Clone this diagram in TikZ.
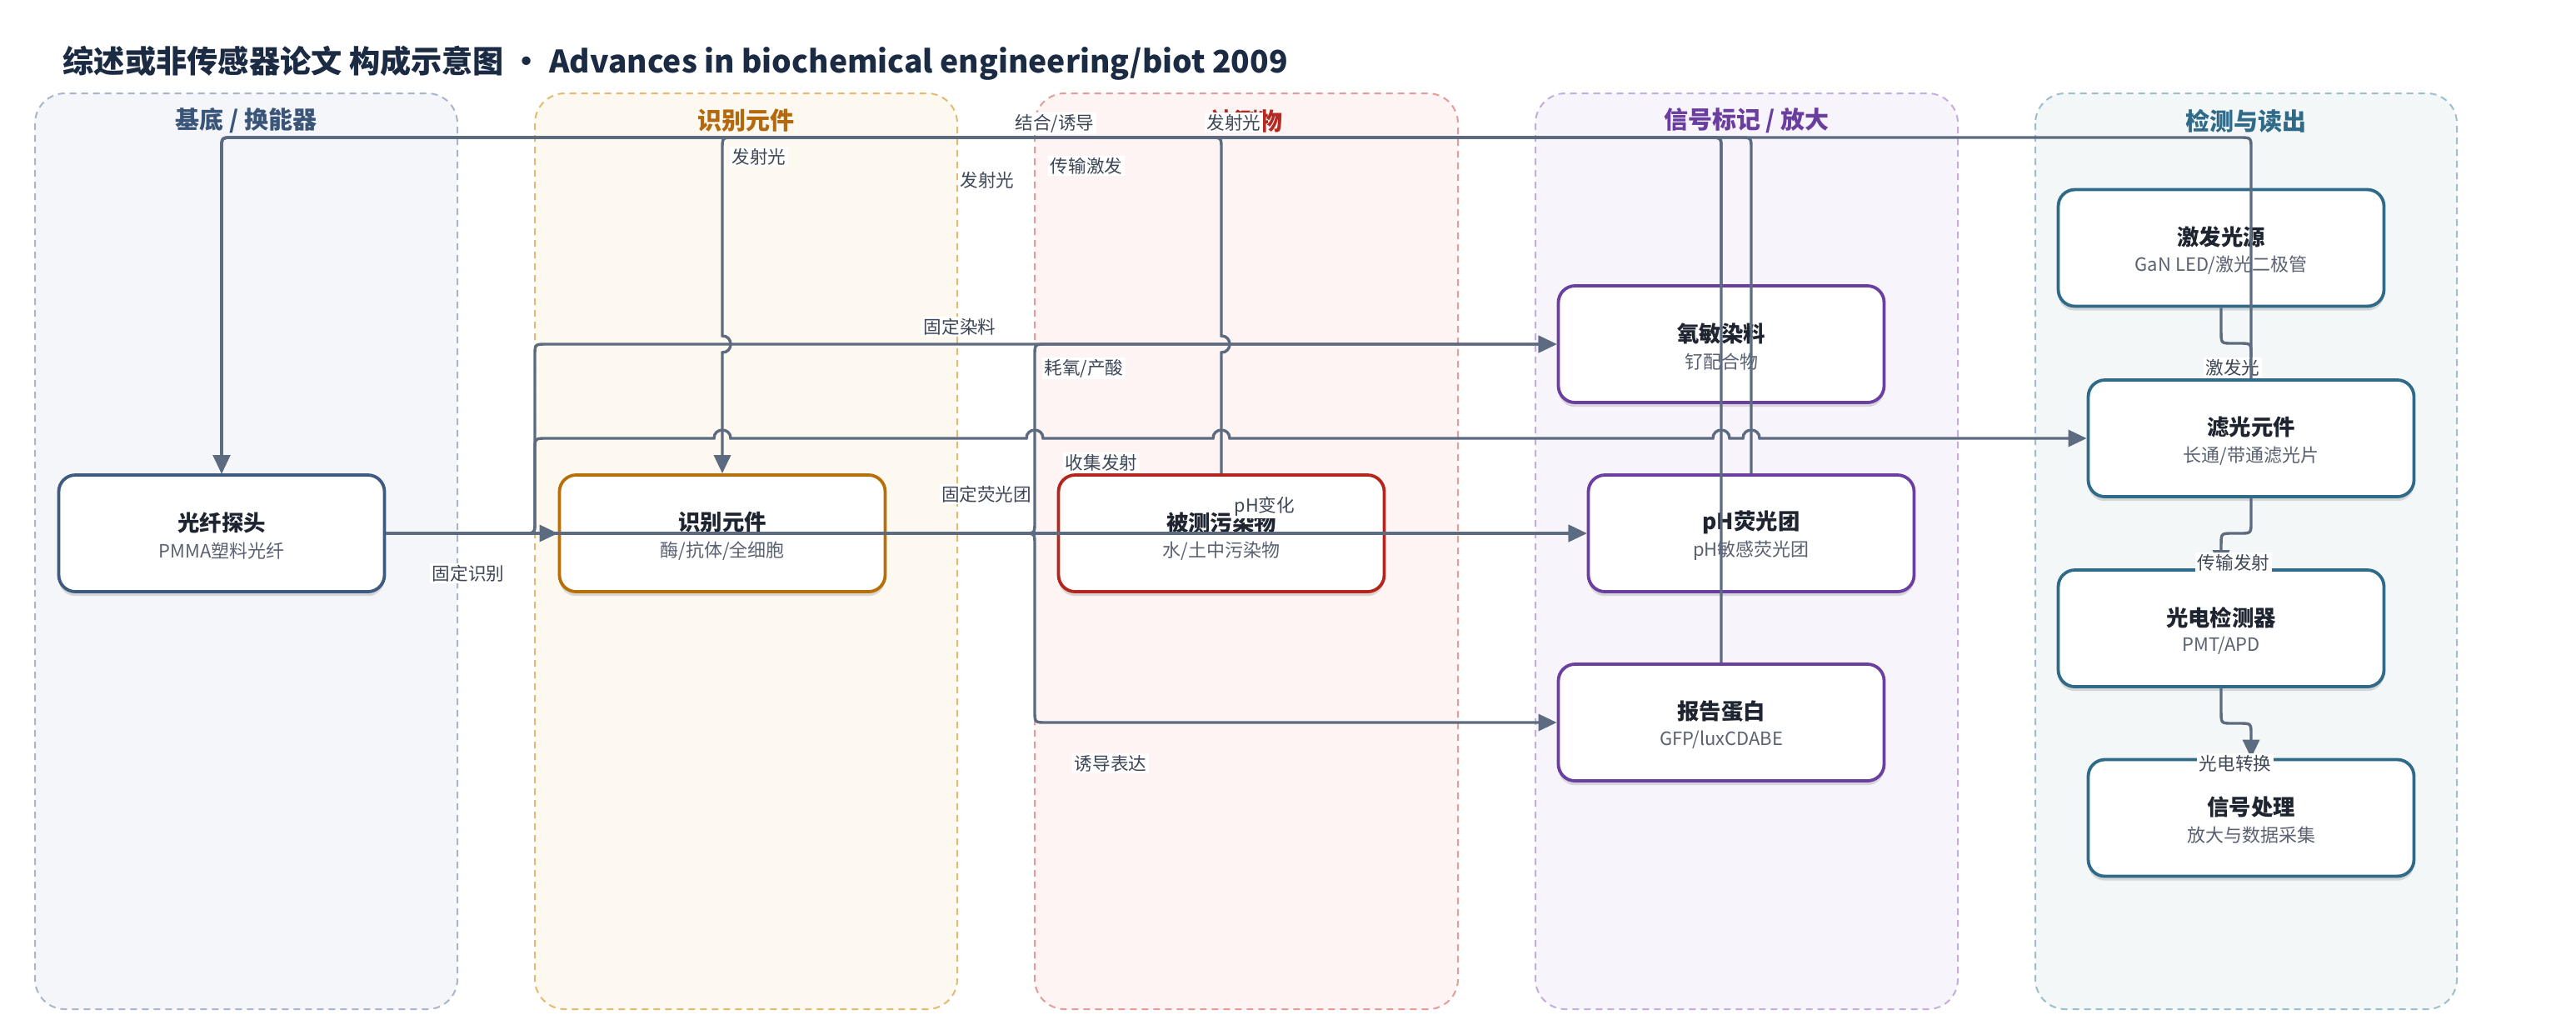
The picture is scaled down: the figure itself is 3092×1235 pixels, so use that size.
\documentclass[tikz,border=0pt]{standalone}
\usepackage{fontspec}
\setmainfont{Noto Sans CJK SC}
\usetikzlibrary{arrows.meta,shadows}
\definecolor{cTitle}{HTML}{1B2B44}
\definecolor{cEdge}{HTML}{5C6B80}
\definecolor{cLbl}{HTML}{3E4756}
\definecolor{cNt}{HTML}{1E2530}
\definecolor{cNs}{HTML}{5A6170}
\definecolor{fA}{HTML}{F4F6FA}\definecolor{dA}{HTML}{A7B6CA}\definecolor{hA}{HTML}{3B5578}
\definecolor{fB}{HTML}{FDF8F0}\definecolor{dB}{HTML}{E4BA72}\definecolor{hB}{HTML}{B4690E}
\definecolor{fC}{HTML}{FDF4F3}\definecolor{dC}{HTML}{E39C99}\definecolor{hC}{HTML}{B22A22}
\definecolor{fD}{HTML}{F7F4FB}\definecolor{dD}{HTML}{C5AEDF}\definecolor{hD}{HTML}{6A3E9E}
\definecolor{fE}{HTML}{F3F7F8}\definecolor{dE}{HTML}{9DBECB}\definecolor{hE}{HTML}{2F6B89}
\definecolor{bA}{HTML}{3E5A80}
\definecolor{bB}{HTML}{B5700A}
\definecolor{bC}{HTML}{B3261E}
\definecolor{bD}{HTML}{6B3FA0}
\definecolor{bE}{HTML}{2F6B89}
\begin{document}
\begin{tikzpicture}[x=0.25pt,y=-0.25pt,
  lane/.style={line width=0.5pt, dash pattern=on 2pt off 1.5pt, rounded corners=9pt},
  hdr/.style={font=\bfseries\fontsize{7.25}{8}\selectfont, inner sep=0pt},
  box/.style={draw, line width=0.95pt, fill=white, rounded corners=5pt,
    minimum width=97.75pt, minimum height=35pt, inner sep=0pt,
    drop shadow={shadow xshift=0pt, shadow yshift=-1.3pt, opacity=0.13, fill=black}},
  ntitle/.style={font=\bfseries\fontsize{6.6}{7}\selectfont, text=cNt, inner sep=0pt},
  nsub/.style={font=\fontsize{5.5}{6}\selectfont, text=cNs, inner sep=0pt},
  edge/.style={draw=cEdge, line width=0.85pt, -{Triangle[length=5.5pt,width=5pt]}},
  lbl/.style={fill=white, inner sep=0.6pt, text=cLbl, font=\fontsize{5.4}{6}\selectfont}]
\useasboundingbox (0,0) rectangle (3092,1235);
\fill[white] (0,0) rectangle (3092,1235);

% title
\node[anchor=west, inner sep=0pt, text=cTitle, font=\bfseries\fontsize{9.3}{11}\selectfont] (title) at (75,76)
  {综述或非传感器论文 构成示意图 · Advances in biochemical engineering/biot 2009};

% lanes
\draw[lane, fill=fA, draw=dA] (42,112) rectangle (549,1211);
\draw[lane, fill=fB, draw=dB] (642,112) rectangle (1149,1211);
\draw[lane, fill=fC, draw=dC] (1242,112) rectangle (1750,1211);
\draw[lane, fill=fD, draw=dD] (1843,112) rectangle (2350,1211);
\draw[lane, fill=fE, draw=dE] (2443,112) rectangle (2949,1211);
\node[hdr, text=hA] (hA) at (295.5,145) {基底 / 换能器};
\node[hdr, text=hB] (hB) at (895.5,145) {识别元件};
\node[hdr, text=hC] (hC) at (1496,145) {被测物};
\node[hdr, text=hD] (hD) at (2096.5,145) {信号标记 / 放大};
\node[hdr, text=hE] (hE) at (2696,145) {检测与读出};

% nodes
\node[box, draw=bA] (fiber) at (266,640) {};
\node[box, draw=bB] (recog) at (867,640) {};
\node[box, draw=bC] (analyte) at (1466,640) {};
\node[box, draw=bD] (oxy) at (2066,413) {};
\node[box, draw=bD] (ph) at (2102,640) {};
\node[box, draw=bD] (reporter) at (2066,867) {};
\node[box, draw=bE] (source) at (2666,297.5) {};
\node[box, draw=bE] (filter) at (2702,526) {};
\node[box, draw=bE] (detector) at (2666,754) {};
\node[box, draw=bE] (processor) at (2702,981.5) {};

\node[ntitle] (fiber-t) at ([yshift=3.25pt]fiber.center) {光纤探头};
\node[nsub] (fiber-s) at ([yshift=-5.25pt]fiber.center) {PMMA塑料光纤};
\node[ntitle] (recog-t) at ([yshift=3.25pt]recog.center) {识别元件};
\node[nsub] (recog-s) at ([yshift=-5.25pt]recog.center) {酶/抗体/全细胞};
\node[ntitle] (analyte-t) at ([yshift=3.25pt]analyte.center) {被测污染物};
\node[nsub] (analyte-s) at ([yshift=-5.25pt]analyte.center) {水/土中污染物};
\node[ntitle] (oxy-t) at ([yshift=3.25pt]oxy.center) {氧敏染料};
\node[nsub] (oxy-s) at ([yshift=-5.25pt]oxy.center) {钌配合物};
\node[ntitle] (ph-t) at ([yshift=3.25pt]ph.center) {pH荧光团};
\node[nsub] (ph-s) at ([yshift=-5.25pt]ph.center) {pH敏感荧光团};
\node[ntitle] (reporter-t) at ([yshift=3.25pt]reporter.center) {报告蛋白};
\node[nsub] (reporter-s) at ([yshift=-5.25pt]reporter.center) {GFP/luxCDABE};
\node[ntitle] (source-t) at ([yshift=3.25pt]source.center) {激发光源};
\node[nsub] (source-s) at ([yshift=-5.25pt]source.center) {GaN LED/激光二极管};
\node[ntitle] (filter-t) at ([yshift=3.25pt]filter.center) {滤光元件};
\node[nsub] (filter-s) at ([yshift=-5.25pt]filter.center) {长通/带通滤光片};
\node[ntitle] (detector-t) at ([yshift=3.25pt]detector.center) {光电检测器};
\node[nsub] (detector-s) at ([yshift=-5.25pt]detector.center) {PMT/APD};
\node[ntitle] (processor-t) at ([yshift=3.25pt]processor.center) {信号处理};
\node[nsub] (processor-s) at ([yshift=-5.25pt]processor.center) {放大与数据采集};

% edges
\draw[edge] (fiber.east) -- (recog.west);
\draw[edge] (fiber.east) -- (628,640) .. controls (642,640) .. (642,626) -- (642,427) .. controls (642,413) .. (656,413) -- (oxy.west);
\draw[edge] (fiber.east) -- (628,640) .. controls (642,640) .. (642,626) -- (642,540) .. controls (642,526) .. (656,526)
  -- (857,526) .. controls (857,512.7) and (877,512.7) .. (877,526)
  -- (1232,526) .. controls (1232,512.7) and (1252,512.7) .. (1252,526)
  -- (1456,526) .. controls (1456,512.7) and (1476,512.7) .. (1476,526)
  -- (2056,526) .. controls (2056,512.7) and (2076,512.7) .. (2076,526)
  -- (2092,526) .. controls (2092,512.7) and (2112,512.7) .. (2112,526)
  -- (filter.west);
\draw[edge] (fiber.east) -- (ph.west);
\draw[edge] (recog.east) -- (1228,640) .. controls (1242,640) .. (1242,626) -- (1242,427) .. controls (1242,413) .. (1256,413) -- (oxy.west);
\draw[edge] (recog.east) -- (1228,640) .. controls (1242,640) .. (1242,654) -- (1242,853) .. controls (1242,867) .. (1256,867) -- (reporter.west);
\draw[edge] (analyte.east) -- (ph.west);
\draw[edge] (analyte.north) -- (1466,423) .. controls (1479.3,423) and (1479.3,403) .. (1466,403)
  -- (1466,179) .. controls (1466,165) .. (1452,165) -- (881,165) .. controls (867,165) .. (867,179)
  -- (867,403) .. controls (880.3,403) and (880.3,423) .. (867,423) -- (recog.north);
\draw[edge] (oxy.north) -- (2066,179) .. controls (2066,165) .. (2052,165) -- (280,165) .. controls (266,165) .. (266,179) -- (fiber.north);
\draw[edge] (ph.north) -- (2102,179) .. controls (2102,165) .. (2088,165) -- (280,165) .. controls (266,165) .. (266,179) -- (fiber.north);
\draw[edge] (reporter.north) -- (2066,179) .. controls (2066,165) .. (2052,165) -- (280,165) .. controls (266,165) .. (266,179) -- (fiber.north);
\draw[edge] (source.south) -- (2666,398) .. controls (2666,412) .. (2680,412) -- (2688,412) .. controls (2702,412) .. (2702,426) -- (filter.north);
\draw[edge] (filter.south) -- (2702,626) .. controls (2702,640) .. (2688,640) -- (2680,640) .. controls (2666,640) .. (2666,654) -- (detector.north);
\draw[edge] (detector.south) -- (2666,854) .. controls (2666,868) .. (2680,868) -- (2688,868) .. controls (2702,868) .. (2702,882) -- (processor.north);

% labels
\node[lbl] (l1) at (562,688) {固定识别};
\node[lbl] (l2) at (911,188) {发射光};
\node[lbl] (l3) at (1266,148) {结合/诱导};
\node[lbl] (l4) at (1481,147) {发射光};
\node[lbl] (l5) at (1304,199) {传输激发};
\node[lbl] (l6) at (1185,216) {发射光};
\node[lbl] (l7) at (1152,392) {固定染料};
\node[lbl] (l8) at (1301,442) {耗氧/产酸};
\node[lbl] (l9) at (1322,555) {收集发射};
\node[lbl] (l10) at (1184,593) {固定荧光团};
\node[lbl] (l11) at (1518,608) {pH变化};
\node[lbl] (l12) at (1333,916) {诱导表达};
\node[lbl] (l13) at (2680,441) {激发光};
\node[lbl] (l14) at (2681,675) {传输发射};
\node[lbl] (l15) at (2683,916) {光电转换};

% filter -> fiber (drawn last, over the label)
\draw[edge] (filter.north) -- (2702,179) .. controls (2702,165) .. (2688,165) -- (280,165) .. controls (266,165) .. (266,179) -- (fiber.north);
\end{tikzpicture}
\end{document}
